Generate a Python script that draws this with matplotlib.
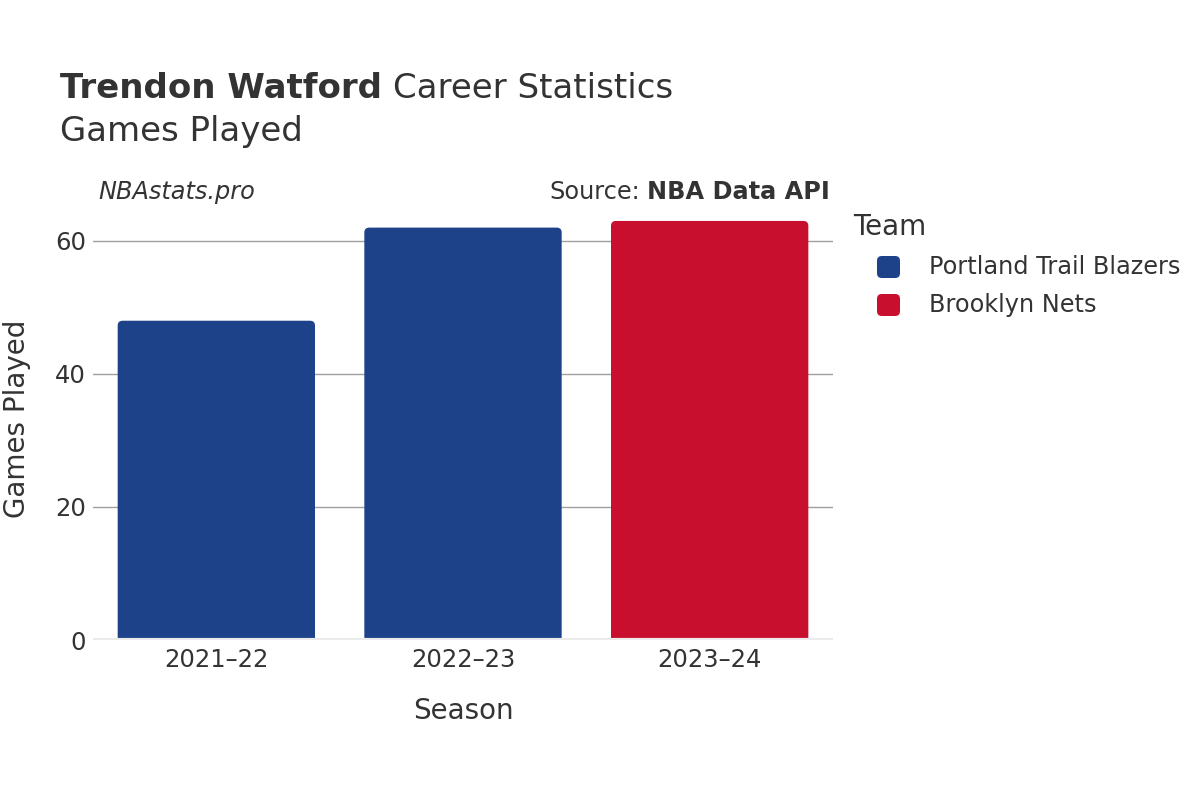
import matplotlib
matplotlib.use("Agg")
import matplotlib.pyplot as plt
from matplotlib.patches import FancyBboxPatch

# ─── Data ────────────────────────────────────────────────────────────
SEASONS = ["2021–22", "2022–23", "2023–24"]
GAMES = [48, 62, 63]
TEAMS = ["Portland Trail Blazers", "Portland Trail Blazers", "Brooklyn Nets"]
LEGEND_TEAMS = ["Portland Trail Blazers", "Brooklyn Nets"]
TEAM_COLORS = {"Portland Trail Blazers": "#1d428a", "Brooklyn Nets": "#c8102e"}
YTICKS = [0, 20, 40, 60]

TXT = "#333333"
plt.rcParams["font.family"] = ["DejaVu Sans"]

W, H = 1200, 800
fig = plt.figure(figsize=(12, 8), dpi=100)
ax = fig.add_axes([93 / W, 160 / H, 740 / W, 441 / H])


def fx(px):
    return px / W


def fy(py):
    return 1 - py / H


ymax = 66.3
ax.set_xlim(-0.5, len(SEASONS) - 0.5)
ax.set_ylim(0, ymax)

# rounded bars (aspect correction so corners look circular)
bw = 0.8
px_x = 740 / len(SEASONS)
px_y = 441 / ymax
r = 0.02
aspect = px_x / px_y
for i, (g, t) in enumerate(zip(GAMES, TEAMS)):
    p = FancyBboxPatch((i - bw / 2, -3), bw, g + 3,
                       boxstyle=f"round,pad=0,rounding_size={r}",
                       mutation_aspect=aspect,
                       facecolor=TEAM_COLORS[t], edgecolor="none", zorder=3)
    ax.add_patch(p)

for y in YTICKS[1:]:
    ax.axhline(y, color="#a0a0a0", lw=1, zorder=1)
ax.axhline(0, color="#ebebeb", lw=3, zorder=4)

for s in ax.spines.values():
    s.set_visible(False)
ax.set_xticks(range(len(SEASONS)))
ax.set_xticklabels(SEASONS)
ax.set_yticks(YTICKS)
ax.tick_params(axis="both", length=0, labelsize=17.5, colors=TXT)
ax.tick_params(axis="x", pad=6)
ax.tick_params(axis="y", pad=5)
ax.set_xlabel("Season", fontsize=20, color=TXT, labelpad=18)
fig.text(fx(17), fy(419), "Games Played", fontsize=20, color=TXT,
         rotation=90, ha="center", va="center")

# titles
t1 = fig.text(fx(60), fy(88), "Trendon Watford", fontsize=24.5,
              fontweight="bold", color=TXT, va="center")
fig.canvas.draw()
bb = t1.get_window_extent()
fig.text(bb.x1 / W + 0.009, fy(88), "Career Statistics", fontsize=24.5,
         color=TXT, va="center")
fig.text(fx(60), fy(132), "Games Played", fontsize=24.5, color=TXT,
         va="center")

fig.text(fx(98), fy(192), "NBAstats.pro", fontsize=17.3, style="italic",
         color=TXT, va="center")
s2 = fig.text(fx(830), fy(192), "NBA Data API", fontsize=17.3,
              fontweight="bold", color=TXT, va="center", ha="right")
fig.canvas.draw()
bb2 = s2.get_window_extent()
fig.text(bb2.x0 / W - 0.006, fy(192), "Source:", fontsize=17.3,
         color=TXT, va="center", ha="right")

# legend (drawn by hand for exact placement)
fig.text(fx(853), fy(227), "Team", fontsize=20, color=TXT, va="center")
for k, team in enumerate(LEGEND_TEAMS):
    yc = 267 + 38 * k
    c = TEAM_COLORS[team]
    fig.patches.append(FancyBboxPatch(
        (fx(877), fy(yc + 11)), 23 / W, 22 / H,
        boxstyle="round,pad=0,rounding_size=0.004",
        mutation_aspect=W / H,
        transform=fig.transFigure, facecolor=c, edgecolor="none"))
    fig.text(fx(929), fy(yc), team, fontsize=17.3, color=TXT, va="center")

fig.savefig("out.png", dpi=100, facecolor="white")
